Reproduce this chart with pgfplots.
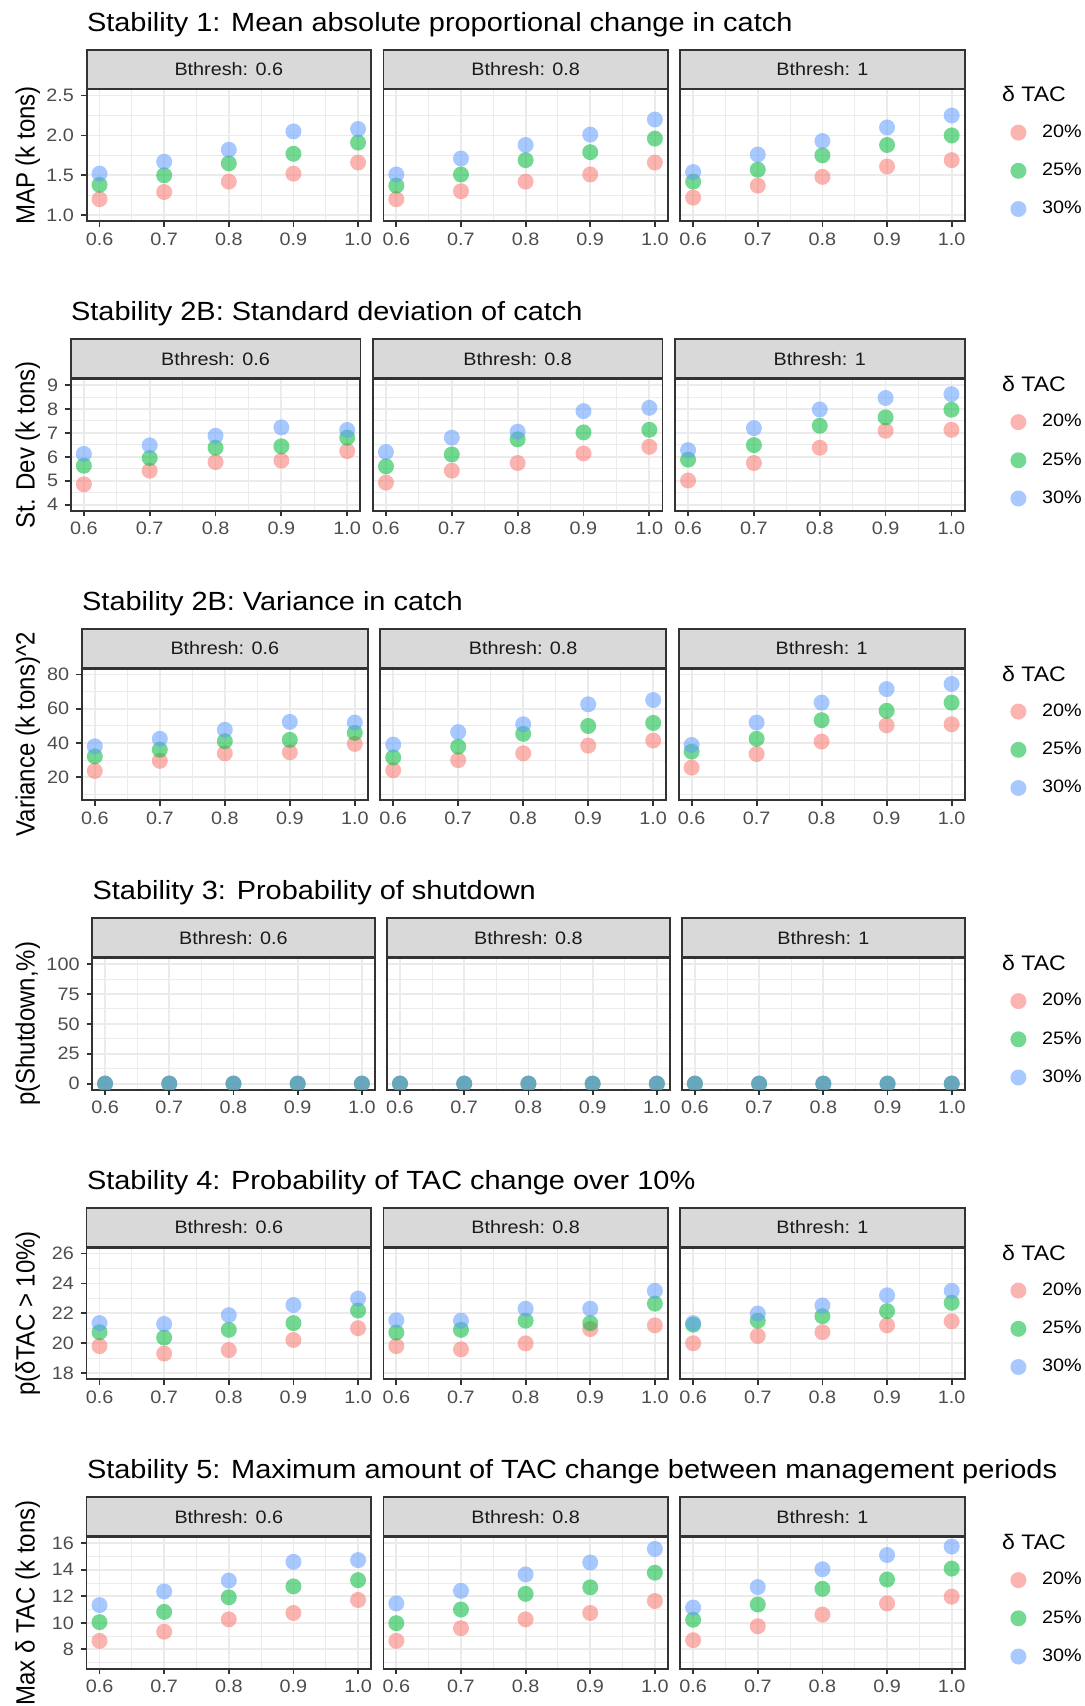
\documentclass[border=0pt]{standalone}
\usepackage{pgfplots}
\pgfplotsset{compat=1.18}
\usepackage{fontspec}
\setmainfont{Liberation Sans}[FakeStretch=1.1]
\newfontfamily\ylabfont{Liberation Sans}
\definecolor{grey20}{HTML}{333333}
\definecolor{grey85}{HTML}{D9D9D9}
\definecolor{grey92}{HTML}{EBEBEB}
\definecolor{grey30}{HTML}{4D4D4D}
\definecolor{grey10}{HTML}{1A1A1A}
\definecolor{cR}{HTML}{F8766D}
\definecolor{cG}{HTML}{00BA38}
\definecolor{cB}{HTML}{619CFF}
\tikzset{
 redpt/.style={only marks, mark=*, mark size=4pt, mark options={draw opacity=0, line width=0pt, fill=cR, fill opacity=0.55}},
 grnpt/.style={only marks, mark=*, mark size=4pt, mark options={draw opacity=0, line width=0pt, fill=cG, fill opacity=0.55}},
 blupt/.style={only marks, mark=*, mark size=4pt, mark options={draw opacity=0, line width=0pt, fill=cB, fill opacity=0.55}},
}
\pgfplotsset{
 panel/.style={scale only axis, height=65.75pt, anchor=north west,
  xmin=0.58, xmax=1.02, xtick={0.6,0.7,0.8,0.9,1.0}, xticklabels={0.6,0.7,0.8,0.9,1.0},
  minor xtick={0.65,0.75,0.85,0.95},
  grid=both, major grid style={line width=0.9pt, draw=grey92}, minor grid style={line width=0.45pt, draw=grey92},
  axis line style={line width=0.9pt, draw=grey20},
  tick align=outside, xtick pos=left, ytick pos=left,
  major tick length=2.8pt, minor tick length=0pt,
  tick style={line width=0.9pt, draw=grey20},
  tick label style={font=\fontsize{9}{9}\selectfont, text=grey30},
  xticklabel style={yshift=0.6pt},
  clip marker paths=true,
  every axis title/.style={at={(0.5,1)}, anchor=south, draw=grey20, fill=grey85, line width=0.9pt,
    minimum height=19.5pt, inner sep=0pt, font=\fontsize{9}{9}\selectfont, text=grey10},
 },
 w/.style={width=#1, every axis title/.append style={minimum width=#1}},
 noy/.style={yticklabels={}, ytick style={draw=none}},
 leg/.style={legend style={at={(1,1)}, anchor=north west, xshift=22.7pt, yshift=-17.3pt, draw=none, fill=none,
   inner sep=0pt, row sep=11.1pt, column sep=7.85pt, nodes={inner sep=0pt, font=\fontsize{9}{9}\selectfont}},
   legend cell align=left,
   legend image code/.code={\draw[##1] plot coordinates {(0pt,0pt)};}},
 r0/.style={ymin=0.925, ymax=2.575, ytick={1,1.5,2,2.5}, minor ytick={1.25,1.75,2.25}},
 r1/.style={ymin=3.75, ymax=9.25, ytick={4,5,6,7,8,9}, minor ytick={4.5,5.5,6.5,7.5,8.5}},
 r2/.style={ymin=6.5, ymax=83.5, ytick={20,40,60,80}, minor ytick={10,30,50,70}},
 r3/.style={ymin=-5, ymax=105, ytick={0,25,50,75,100}, minor ytick={12.5,37.5,62.5,87.5}},
 r4/.style={ymin=17.6, ymax=26.4, ytick={18,20,22,24,26}, minor ytick={19,21,23,25}},
 r5/.style={ymin=6.55, ymax=16.45, ytick={8,10,12,14,16}, minor ytick={7,9,11,13,15}},
}
\newcommand{\titlefont}{\fontsize{13.15}{13.15}\selectfont}
% #1 L, #2 S, #3 title, #4 y label
\newcommand{\rowdecor}[4]{%
 \node[anchor=base west, inner sep=0pt, font=\titlefont] at (#1pt, {(9.6-#2)*1pt}) {#3};
 \node[anchor=base, inner sep=0pt, xscale=1.1, rotate=90, font=\ylabfont\fontsize{12}{12}\selectfont] at (17.3pt, {-(#2+52.375)*1pt}) {#4};
 \node[anchor=base west, inner sep=0pt, font=\fontsize{10.5}{10.5}\selectfont] at (500.85pt, {-(#2+25.7)*1pt}) {δ TAC};
}
\begin{document}
\begin{tikzpicture}
\path[use as bounding box] (0,0) rectangle (542.5pt,-853pt);

% ---------------- Row 0 ----------------
\rowdecor{43.3}{25.3}{Stability 1: Mean absolute proportional change in catch}{MAP (k tons)}
\begin{axis}[panel, r0, w=142.2pt, at={(43.3pt,-44.8pt)}, title={Bthresh: 0.6}, yticklabels={1.0,1.5,2.0,2.5}]
\addplot[redpt] coordinates {(0.6,1.20)(0.7,1.29)(0.8,1.42)(0.9,1.52)(1.0,1.66)};
\addplot[grnpt] coordinates {(0.6,1.38)(0.7,1.50)(0.8,1.65)(0.9,1.77)(1.0,1.91)};
\addplot[blupt] coordinates {(0.6,1.52)(0.7,1.67)(0.8,1.82)(0.9,2.05)(1.0,2.08)};
\end{axis}
\begin{axis}[panel, r0, w=142.2pt, at={(191.7pt,-44.8pt)}, title={Bthresh: 0.8}, noy]
\addplot[redpt] coordinates {(0.6,1.20)(0.7,1.30)(0.8,1.42)(0.9,1.51)(1.0,1.66)};
\addplot[grnpt] coordinates {(0.6,1.37)(0.7,1.51)(0.8,1.69)(0.9,1.79)(1.0,1.96)};
\addplot[blupt] coordinates {(0.6,1.51)(0.7,1.71)(0.8,1.88)(0.9,2.01)(1.0,2.20)};
\end{axis}
\begin{axis}[panel, r0, w=142.2pt, at={(340.1pt,-44.8pt)}, title={Bthresh: 1}, noy, leg]
\addplot[redpt] coordinates {(0.6,1.22)(0.7,1.37)(0.8,1.48)(0.9,1.61)(1.0,1.69)};
\addlegendentry{20\%}
\addplot[grnpt] coordinates {(0.6,1.42)(0.7,1.57)(0.8,1.75)(0.9,1.88)(1.0,2.00)};
\addlegendentry{25\%}
\addplot[blupt] coordinates {(0.6,1.54)(0.7,1.76)(0.8,1.93)(0.9,2.10)(1.0,2.25)};
\addlegendentry{30\%}
\end{axis}

% ---------------- Row 1 ----------------
\rowdecor{35.35}{170.05}{Stability 2B: Standard deviation of catch}{St. Dev (k tons)}
\begin{axis}[panel, r1, w=144.85pt, at={(35.35pt,-189.55pt)}, title={Bthresh: 0.6}, yticklabels={4,5,6,7,8,9}]
\addplot[redpt] coordinates {(0.6,4.85)(0.7,5.42)(0.8,5.78)(0.9,5.84)(1.0,6.24)};
\addplot[grnpt] coordinates {(0.6,5.63)(0.7,5.95)(0.8,6.38)(0.9,6.44)(1.0,6.80)};
\addplot[blupt] coordinates {(0.6,6.12)(0.7,6.48)(0.8,6.88)(0.9,7.23)(1.0,7.12)};
\end{axis}
\begin{axis}[panel, r1, w=144.85pt, at={(186.4pt,-189.55pt)}, title={Bthresh: 0.8}, noy]
\addplot[redpt] coordinates {(0.6,4.92)(0.7,5.42)(0.8,5.74)(0.9,6.14)(1.0,6.42)};
\addplot[grnpt] coordinates {(0.6,5.60)(0.7,6.10)(0.8,6.73)(0.9,7.02)(1.0,7.13)};
\addplot[blupt] coordinates {(0.6,6.20)(0.7,6.80)(0.8,7.05)(0.9,7.91)(1.0,8.05)};
\end{axis}
\begin{axis}[panel, r1, w=144.85pt, at={(337.45pt,-189.55pt)}, title={Bthresh: 1}, noy, leg]
\addplot[redpt] coordinates {(0.6,5.01)(0.7,5.74)(0.8,6.38)(0.9,7.09)(1.0,7.13)};
\addlegendentry{20\%}
\addplot[grnpt] coordinates {(0.6,5.88)(0.7,6.49)(0.8,7.30)(0.9,7.65)(1.0,7.97)};
\addlegendentry{25\%}
\addplot[blupt] coordinates {(0.6,6.28)(0.7,7.20)(0.8,7.98)(0.9,8.46)(1.0,8.62)};
\addlegendentry{30\%}
\end{axis}

% ---------------- Row 2 ----------------
\rowdecor{40.9}{314.8}{Stability 2B: Variance in catch}{Variance (k tons)\^{}2}
\begin{axis}[panel, r2, w=143.0pt, at={(40.9pt,-334.3pt)}, title={Bthresh: 0.6}, yticklabels={20,40,60,80}]
\addplot[redpt] coordinates {(0.6,23.6)(0.7,29.5)(0.8,33.9)(0.9,34.5)(1.0,39.4)};
\addplot[grnpt] coordinates {(0.6,32.1)(0.7,36.0)(0.8,41.0)(0.9,41.8)(1.0,45.9)};
\addplot[blupt] coordinates {(0.6,38.0)(0.7,42.4)(0.8,47.7)(0.9,52.3)(1.0,51.9)};
\end{axis}
\begin{axis}[panel, r2, w=143.0pt, at={(190.1pt,-334.3pt)}, title={Bthresh: 0.8}, noy]
\addplot[redpt] coordinates {(0.6,24.0)(0.7,29.9)(0.8,33.9)(0.9,38.4)(1.0,41.4)};
\addplot[grnpt] coordinates {(0.6,31.5)(0.7,37.8)(0.8,45.3)(0.9,49.9)(1.0,51.7)};
\addplot[blupt] coordinates {(0.6,39.0)(0.7,46.3)(0.8,50.9)(0.9,62.6)(1.0,65.1)};
\end{axis}
\begin{axis}[panel, r2, w=143.0pt, at={(339.3pt,-334.3pt)}, title={Bthresh: 1}, noy, leg]
\addplot[redpt] coordinates {(0.6,25.5)(0.7,33.5)(0.8,40.8)(0.9,50.3)(1.0,50.9)};
\addlegendentry{20\%}
\addplot[grnpt] coordinates {(0.6,34.9)(0.7,42.4)(0.8,53.3)(0.9,58.8)(1.0,63.6)};
\addlegendentry{25\%}
\addplot[blupt] coordinates {(0.6,38.8)(0.7,51.9)(0.8,63.6)(0.9,71.5)(1.0,74.5)};
\addlegendentry{30\%}
\end{axis}

% ---------------- Row 3 ----------------
\rowdecor{46.1}{459.55}{Stability 3: Probability of shutdown}{p(Shutdown,\%)}
\begin{axis}[panel, r3, w=141.27pt, at={(46.1pt,-479.05pt)}, title={Bthresh: 0.6}, yticklabels={0,25,50,75,100}]
\addplot[redpt] coordinates {(0.6,0)(0.7,0)(0.8,0)(0.9,0)(1.0,0)};
\addplot[grnpt] coordinates {(0.6,0)(0.7,0)(0.8,0)(0.9,0)(1.0,0)};
\addplot[blupt] coordinates {(0.6,0)(0.7,0)(0.8,0)(0.9,0)(1.0,0)};
\end{axis}
\begin{axis}[panel, r3, w=141.27pt, at={(193.57pt,-479.05pt)}, title={Bthresh: 0.8}, noy]
\addplot[redpt] coordinates {(0.6,0)(0.7,0)(0.8,0)(0.9,0)(1.0,0)};
\addplot[grnpt] coordinates {(0.6,0)(0.7,0)(0.8,0)(0.9,0)(1.0,0)};
\addplot[blupt] coordinates {(0.6,0)(0.7,0)(0.8,0)(0.9,0)(1.0,0)};
\end{axis}
\begin{axis}[panel, r3, w=141.27pt, at={(341.03pt,-479.05pt)}, title={Bthresh: 1}, noy, leg]
\addplot[redpt] coordinates {(0.6,0)(0.7,0)(0.8,0)(0.9,0)(1.0,0)};
\addlegendentry{20\%}
\addplot[grnpt] coordinates {(0.6,0)(0.7,0)(0.8,0)(0.9,0)(1.0,0)};
\addlegendentry{25\%}
\addplot[blupt] coordinates {(0.6,0)(0.7,0)(0.8,0)(0.9,0)(1.0,0)};
\addlegendentry{30\%}
\end{axis}

% ---------------- Row 4 ----------------
\rowdecor{43.3}{604.3}{Stability 4: Probability of TAC change over 10\%}{p(δTAC > 10\%)}
\begin{axis}[panel, r4, w=142.2pt, at={(43.3pt,-623.8pt)}, title={Bthresh: 0.6}, yticklabels={18,20,22,24,26}]
\addplot[redpt] coordinates {(0.6,19.81)(0.7,19.31)(0.8,19.54)(0.9,20.22)(1.0,21.01)};
\addplot[grnpt] coordinates {(0.6,20.74)(0.7,20.38)(0.8,20.90)(0.9,21.35)(1.0,22.19)};
\addplot[blupt] coordinates {(0.6,21.35)(0.7,21.29)(0.8,21.88)(0.9,22.56)(1.0,22.99)};
\end{axis}
\begin{axis}[panel, r4, w=142.2pt, at={(191.7pt,-623.8pt)}, title={Bthresh: 0.8}, noy]
\addplot[redpt] coordinates {(0.6,19.81)(0.7,19.59)(0.8,19.99)(0.9,20.95)(1.0,21.20)};
\addplot[grnpt] coordinates {(0.6,20.72)(0.7,20.90)(0.8,21.51)(0.9,21.35)(1.0,22.65)};
\addplot[blupt] coordinates {(0.6,21.54)(0.7,21.51)(0.8,22.31)(0.9,22.31)(1.0,23.51)};
\end{axis}
\begin{axis}[panel, r4, w=142.2pt, at={(340.1pt,-623.8pt)}, title={Bthresh: 1}, noy, leg]
\addplot[redpt] coordinates {(0.6,20.00)(0.7,20.49)(0.8,20.74)(0.9,21.20)(1.0,21.47)};
\addlegendentry{20\%}
\addplot[grnpt] coordinates {(0.6,21.24)(0.7,21.51)(0.8,21.81)(0.9,22.15)(1.0,22.71)};
\addlegendentry{25\%}
\addplot[blupt] coordinates {(0.6,21.35)(0.7,21.99)(0.8,22.53)(0.9,23.21)(1.0,23.51)};
\addlegendentry{30\%}
\end{axis}

% ---------------- Row 5 ----------------
\rowdecor{43.3}{749.05}{Stability 5: Maximum amount of TAC change between management periods}{Max δ TAC (k tons)}
\begin{axis}[panel, r5, w=142.2pt, at={(43.3pt,-768.55pt)}, title={Bthresh: 0.6}, yticklabels={8,10,12,14,16}]
\addplot[redpt] coordinates {(0.6,8.64)(0.7,9.33)(0.8,10.26)(0.9,10.74)(1.0,11.72)};
\addplot[grnpt] coordinates {(0.6,10.05)(0.7,10.82)(0.8,11.92)(0.9,12.74)(1.0,13.21)};
\addplot[blupt] coordinates {(0.6,11.33)(0.7,12.36)(0.8,13.18)(0.9,14.59)(1.0,14.72)};
\end{axis}
\begin{axis}[panel, r5, w=142.2pt, at={(191.7pt,-768.55pt)}, title={Bthresh: 0.8}, noy]
\addplot[redpt] coordinates {(0.6,8.64)(0.7,9.59)(0.8,10.26)(0.9,10.74)(1.0,11.64)};
\addplot[grnpt] coordinates {(0.6,9.97)(0.7,11.00)(0.8,12.18)(0.9,12.67)(1.0,13.77)};
\addplot[blupt] coordinates {(0.6,11.46)(0.7,12.41)(0.8,13.64)(0.9,14.54)(1.0,15.56)};
\end{axis}
\begin{axis}[panel, r5, w=142.2pt, at={(340.1pt,-768.55pt)}, title={Bthresh: 1}, noy, leg]
\addplot[redpt] coordinates {(0.6,8.69)(0.7,9.74)(0.8,10.62)(0.9,11.46)(1.0,11.97)};
\addlegendentry{20\%}
\addplot[grnpt] coordinates {(0.6,10.23)(0.7,11.38)(0.8,12.56)(0.9,13.26)(1.0,14.08)};
\addlegendentry{25\%}
\addplot[blupt] coordinates {(0.6,11.15)(0.7,12.69)(0.8,14.03)(0.9,15.10)(1.0,15.74)};
\addlegendentry{30\%}
\end{axis}
\end{tikzpicture}
\end{document}
